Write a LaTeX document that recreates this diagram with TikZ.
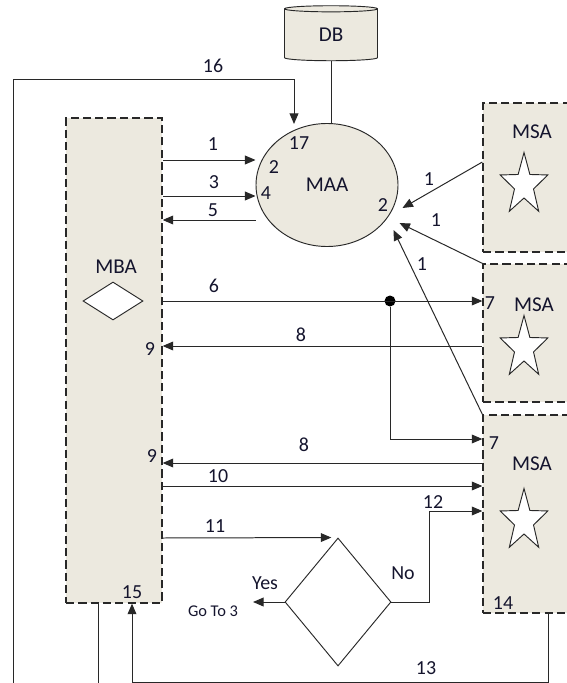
\documentclass[tikz,border=0pt]{standalone}
\usepackage{fontspec}
\setmainfont{Carlito}
\usetikzlibrary{shapes,shapes.geometric,positioning,calc,fit,arrows.meta}
\definecolor{boxfill}{RGB}{236,233,223}
\definecolor{linegray}{RGB}{40,40,40}
\definecolor{txt}{RGB}{20,20,45}
\tikzset{
  agentbox/.style={draw=linegray, line width=1.1pt, dash pattern=on 7pt off 3.5pt, fill=boxfill, inner sep=0pt},
  conn/.style={draw=linegray, line width=0.85pt},
  arr/.style={conn, -{Triangle[length=9pt,width=7.5pt]}},
  lbl/.style={text=txt, inner sep=0pt},
  starnode/.style={star, star points=5, star point ratio=2.5, draw=linegray, line width=0.8pt, fill=white, minimum size=1.5cm, inner sep=0pt, yscale=1.3},
  dbnode/.style={cylinder, shape border rotate=90, aspect=0.25, draw=linegray, line width=0.8pt, fill=boxfill, minimum width=2.79cm, minimum height=1.65cm, inner sep=0pt, text=txt, font=\fontsize{18}{21}\selectfont}
}
\begin{document}
\begin{tikzpicture}[x=0.03cm, y=-0.03cm, font=\fontsize{17}{20}\selectfont]
\useasboundingbox (0,0) rectangle (566,683);
\node[agentbox, fit={(66,118) (162,603)}] (mba) {};
\node[agentbox, fit={(483,103) (600,252)}] (msa1) {};
\node[agentbox, fit={(483,264) (600,402)}] (msa2) {};
\node[agentbox, fit={(483,415) (600,613)}] (msa3) {};
\node[dbnode] (db) at (331,35) {DB};
\node[ellipse, draw=linegray, line width=0.8pt, fill=boxfill, minimum width=4.26cm, minimum height=3.69cm, inner sep=0pt, text=txt, font=\fontsize{18}{21}\selectfont] (maa) at (327,185) {MAA};
\node[diamond, draw=linegray, line width=0.8pt, fill=white, minimum width=1.8cm, minimum height=1.14cm, inner sep=0pt] (mbadia) at (113,301) {};
\node[diamond, draw=linegray, line width=0.8pt, fill=white, minimum width=3.18cm, minimum height=3.84cm, inner sep=0pt] (dec) at (338,602) {};
\node[starnode] (star1) at (524,185) {};
\node[starnode] (star2) at (524,348) {};
\node[starnode] (star3) at (524,521) {};
\node[circle, fill=black, minimum size=0.33cm, inner sep=0pt] (split) at (390,301) {};
\coordinate (in16) at (294,124);
\coordinate (gotoend) at (253,603);
\node[lbl, font=\fontsize{18}{21}\selectfont] (mbalbl) at (116,267) {MBA};
\node[lbl, font=\fontsize{18}{21}\selectfont] (msalbl1) at (532,132) {MSA};
\node[lbl, font=\fontsize{18}{21}\selectfont] (msalbl2) at (534,305) {MSA};
\node[lbl, font=\fontsize{18}{21}\selectfont] (msalbl3) at (532,464) {MSA};
\node[lbl] (n16) at (213,66) {16};
\node[lbl] (n17) at (299,143) {17};
\node[lbl] (n1) at (213,144) {1};
\node[lbl] (n2) at (274,167) {2};
\node[lbl] (n3) at (214,182) {3};
\node[lbl] (n4) at (266,193) {4};
\node[lbl] (n5) at (213,210) {5};
\node[lbl] (n2b) at (383,205) {2};
\node[lbl] (n1b) at (429,179) {1};
\node[lbl] (n1c) at (436,220) {1};
\node[lbl] (n1d) at (422,264) {1};
\node[lbl] (n6) at (214,286) {6};
\node[lbl] (n7) at (490,303) {7};
\node[lbl] (n8) at (301,335) {8};
\node[lbl] (n9) at (150,349) {9};
\node[lbl] (n7b) at (494,443) {7};
\node[lbl] (n8b) at (304,445) {8};
\node[lbl] (n9b) at (152,456) {9};
\node[lbl] (n10) at (218,476) {10};
\node[lbl] (n12) at (433,502) {12};
\node[lbl] (n11) at (215,526) {11};
\node[lbl] (nno) at (403,573) {No};
\node[lbl] (nyes) at (265,583) {Yes};
\node[lbl, font=\fontsize{14}{16}\selectfont] (goto) at (213,611) {Go To 3};
\node[lbl] (n15) at (132,592) {15};
\node[lbl] (n14) at (503,603) {14};
\node[lbl] (n13) at (426,668) {13};
\draw[conn] (db.south) -- (db.south |- maa.north);
\draw[arr] ($(mba.south)+(-16,0)$) -- ++(0,100) -| (13,80) -| (in16);
\draw[arr] (mba.east |- 0,160) -- (maa.west |- 0,160);
\draw[arr] (mba.east |- 0,196) -- (maa.west |- 0,196);
\draw[arr] (maa.west |- 0,220) -- (mba.east |- 0,220);
\draw[arr] (msa1.west |- 0,162) -- ($(maa.east)+(4,23)$);
\draw[arr] (msa2.north west) -- ($(maa.east)+(1,38)$);
\draw[arr] (msa3.north west) -- ($(maa.east)+(-5,45)$);
\draw[arr] (mba.east |- split) -- (msa2.west |- split);
\draw[arr] (split) |- (msa3.west |- 0,439);
\draw[arr] (msa2.west |- 0,346) -- (mba.east |- 0,346);
\draw[arr] (msa3.west |- 0,463) -- (mba.east |- 0,463);
\draw[arr] (mba.east |- 0,486) -- (msa3.west |- 0,486);
\draw[arr] (dec.east) -- ++(38,0) |- (msa3.west |- 0,511);
\draw[arr] (mba.east |- 0,538) -- ([xshift=-0.2cm]dec.north);
\draw[arr] (dec.west) -- (dec.west -| gotoend);
\draw[arr] ($(msa3.south west)+(66,0)$) -- ++(0,69) -| ($(mba.south)+(18,0)$);
\end{tikzpicture}
\end{document}
